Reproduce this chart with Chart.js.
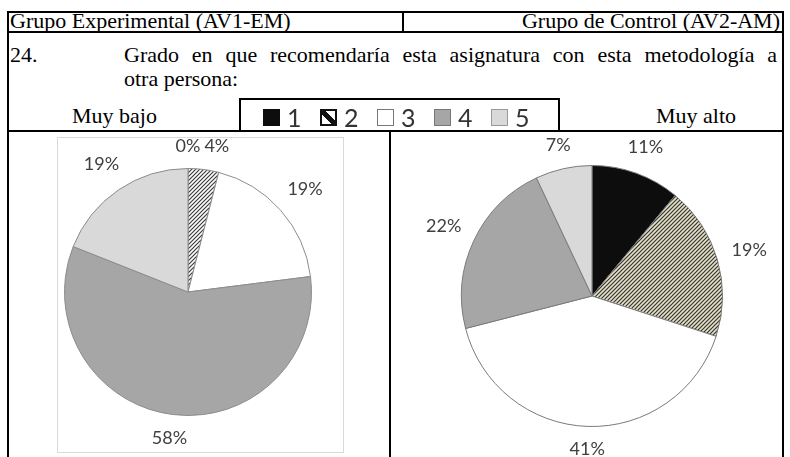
<!DOCTYPE html>
<html>
<head>
<meta charset="utf-8">
<script src="https://cdn.jsdelivr.net/npm/chart.js@4"></script>
<style>
    body { margin: 0; background: #fff; }
    #page { position: relative; width: 790px; height: 457px; overflow: hidden; }
    .ln { position: absolute; background: #000; }
    .txt { position: absolute; font-family: "Liberation Serif", "Times New Roman", serif; font-size: 22px; color: #000; white-space: nowrap; }
    #legend { position: absolute; left: 239px; top: 98px; width: 295px; height: 30px; border: 2px solid #000; border-bottom: none;
        display: flex; align-items: center; padding-left: 22px; padding-top: 2px; box-sizing: content-box;
        font-family: Lato, "Open Sans", sans-serif; font-size: 25px; color: #333; }
    #legend .item { display: flex; align-items: center; width: 57px; flex: none; }
    #legend .sw { width: 17px; height: 17px; box-sizing: border-box; margin-right: 7px; }
    #frame { position: absolute; left: 57px; top: 137px; width: 285px; height: 314px; border: 1px solid #d9d9d9; }
    canvas { position: absolute; }
</style>
</head>
<body>
<div id="page">
    <div id="frame"></div>
    <canvas id="pieEM" width="382" height="324" style="left:8px; top:133px;"></canvas>
    <canvas id="pieAM" width="392" height="324" style="left:391px; top:133px;"></canvas>

    <!-- table lines -->
    <div class="ln" style="left:7px; top:11px; width:777px; height:2px;"></div>
    <div class="ln" style="left:7px; top:31px; width:777px; height:2px;"></div>
    <div class="ln" style="left:7px; top:130px; width:777px; height:2px;"></div>
    <div class="ln" style="left:7px; top:11px; width:2px; height:446px;"></div>
    <div class="ln" style="left:782px; top:11px; width:2px; height:446px;"></div>
    <div class="ln" style="left:402px; top:11px; width:2px; height:21px;"></div>
    <div class="ln" style="left:389px; top:130px; width:2px; height:327px;"></div>

    <div class="txt" style="left:10px; top:10px; line-height:22px;">Grupo Experimental (AV1-EM)</div>
    <div class="txt" style="right:10px; top:10px; line-height:22px;">Grupo de Control (AV2-AM)</div>
    <div class="txt" style="left:10px; top:43px; line-height:24px;">24.</div>
    <div class="txt" style="left:124px; top:43px; width:653px; line-height:24px; white-space:normal; text-align:justify; text-align-last:justify;">Grado en que recomendaría esta asignatura con esta metodología a</div>
    <div class="txt" style="left:124px; top:67px; line-height:24px;">otra persona:</div>
    <div class="txt" style="left:72px; top:104px; line-height:24px;">Muy bajo</div>
    <div class="txt" style="left:656px; top:104px; line-height:24px;">Muy alto</div>

    <div id="legend"></div>
</div>

<script>
const categories = ['1', '2', '3', '4', '5'];
const experimental = [0, 4, 19, 58, 19];   // Grupo Experimental (AV1-EM), %
const control = [11, 19, 41, 22, 7];       // Grupo de Control (AV2-AM), %

function hatch(bg, fg) {
    const c = document.createElement('canvas');
    c.width = 4;
    c.height = 4;
    const g = c.getContext('2d');
    g.fillStyle = bg;
    g.fillRect(0, 0, 4, 4);
    g.strokeStyle = fg;
    g.lineWidth = 1.2;
    g.beginPath();
    g.moveTo(0, 4); g.lineTo(4, 0);
    g.moveTo(-1, 1); g.lineTo(1, -1);
    g.moveTo(3, 5); g.lineTo(5, 3);
    g.stroke();
    return g.createPattern(c, 'repeat');
}

// legend (shared, sits in the table header)
const legendSwatches = [
    'background:#0d0d0d; border:1px solid #0d0d0d;',
    'border:2px solid #111; background:linear-gradient(to top right, #fff 36%, #111 36%, #111 64%, #fff 64%);',
    'background:#fff; border:1px solid #777;',
    'background:#a6a6a6; border:1px solid #777;',
    'background:#d9d9d9; border:1px solid #999;'
];
const legend = document.getElementById('legend');
categories.forEach(function(cat, i) {
    const item = document.createElement('div');
    item.className = 'item';
    item.innerHTML = '<div class="sw" style="' + legendSwatches[i] + '"></div><span>' + cat + '</span>';
    legend.appendChild(item);
});

// percentage labels outside the slices, Excel style
const outsideLabels = {
    id: 'outsideLabels',
    afterDatasetsDraw(chart) {
        const ctx = chart.ctx;
        const meta = chart.getDatasetMeta(0);
        const values = chart.data.datasets[0].data;
        const boxes = [];
        ctx.save();
        ctx.font = '18px Lato, "Open Sans", sans-serif';
        ctx.fillStyle = '#404040';
        ctx.textAlign = 'center';
        ctx.textBaseline = 'middle';
        meta.data.forEach(function(arc, i) {
            const p = arc.getProps(['x', 'y', 'startAngle', 'endAngle', 'outerRadius'], true);
            const mid = (p.startAngle + p.endAngle) / 2;
            const dx = Math.cos(mid), dy = Math.sin(mid);
            const text = values[i] + '%';
            const w = ctx.measureText(text).width, h = 16;
            const ext = Math.abs(dx) * w / 2 + Math.abs(dy) * h / 2;
            const d = p.outerRadius + 14 + ext;
            let lx = p.x + dx * d, ly = p.y + dy * d;
            boxes.forEach(function(b) {
                if (Math.abs(lx - b.x) < (w + b.w) / 2 + 4 && Math.abs(ly - b.y) < h) {
                    lx = b.x + (dx >= 0 ? 1 : -1) * ((w + b.w) / 2 + 4);
                }
            });
            boxes.push({ x: lx, y: ly, w: w });
            ctx.fillText(text, lx, ly);
        });
        ctx.restore();
    }
};

function makePie(id, values, hatchFill, border, padding) {
    return new Chart(document.getElementById(id), {
        type: 'pie',
        data: {
            labels: categories,
            datasets: [{
                data: values,
                backgroundColor: ['#0d0d0d', hatchFill, '#ffffff', '#a6a6a6', '#d9d9d9'],
                borderColor: border,
                borderWidth: 1,
                hoverOffset: 0,
                offset: 0
            }]
        },
        options: {
            responsive: false,
            animation: false,
            events: [],
            layout: { padding: padding },
            plugins: {
                legend: { display: false },
                tooltip: { enabled: false }
            }
        },
        plugins: [outsideLabels]
    });
}

makePie('pieEM', experimental, hatch('#ffffff', '#3c3c3c'), '#8c8c8c',
    { left: 56, right: 78, top: 35, bottom: 41 });
makePie('pieAM', control, hatch('#e4e0cc', '#35352c'), '#7a7a7a',
    { left: 70, right: 60, top: 32, bottom: 30 });
</script>
</body>
</html>
